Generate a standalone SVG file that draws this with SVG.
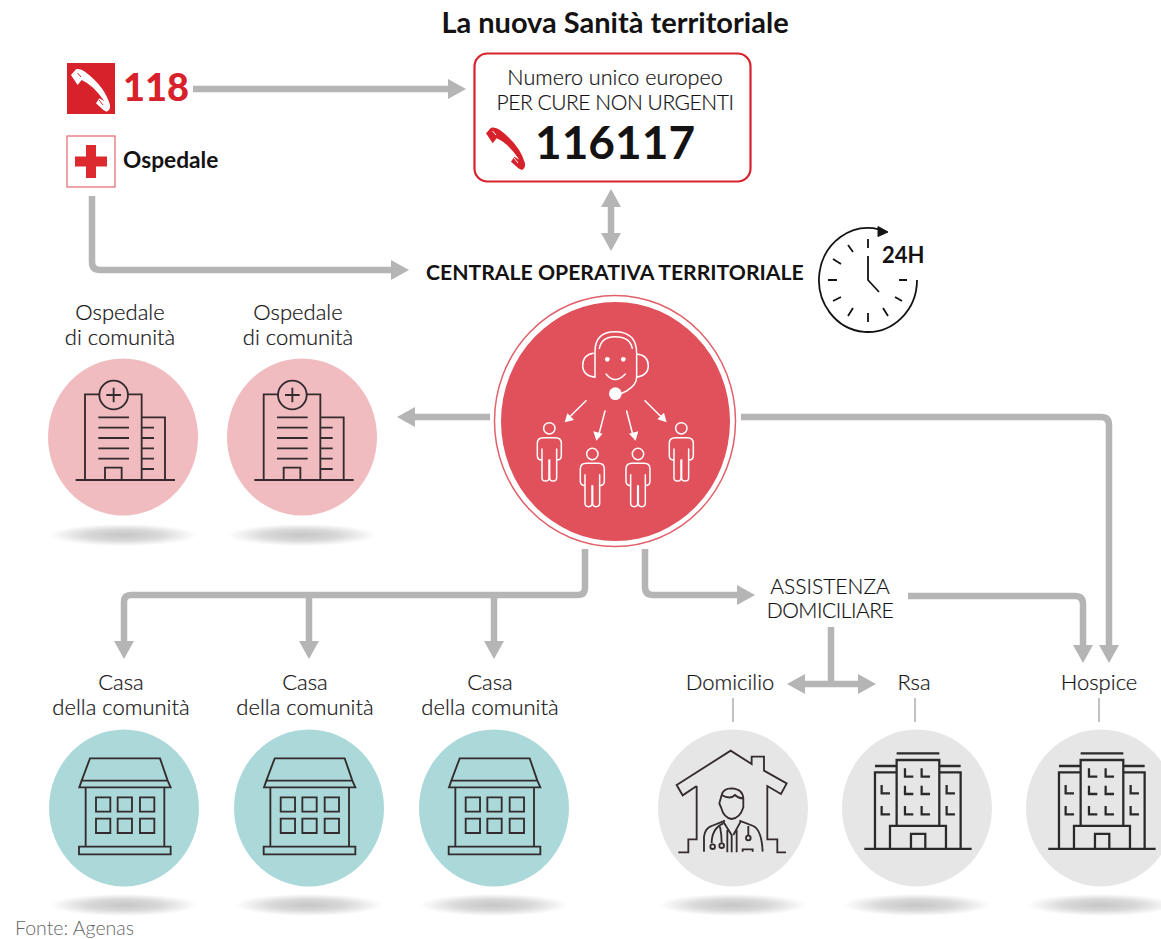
<svg xmlns="http://www.w3.org/2000/svg" width="1161" height="939" viewBox="0 0 1161 939">
<style>
text{font-family:"Lato","Noto Sans",sans-serif;fill:#141213}
.l{font-size:22px;font-weight:300;text-anchor:middle;stroke:#141213;stroke-width:.2}
.u{font-size:21px;letter-spacing:-.45px}
.b{font-weight:700}
.c{fill:none;stroke:#b5b5b5;stroke-width:6.5;stroke-linejoin:round}
.t{stroke:#9a9a9a;stroke-width:1.2;fill:none}
.i{fill:none;stroke:#332b2d;stroke-width:5.500;stroke-linejoin:miter}
.k{stroke-width:6.800;stroke:#2a2a2a}
.w{fill:none;stroke:#fff;stroke-width:4.500;stroke-linecap:round;stroke-linejoin:round}
</style>
<defs>
<marker id="h" markerUnits="userSpaceOnUse" markerWidth="20" markerHeight="22" refX="1" refY="11" orient="auto-start-reverse"><path d="M0,1L18,11L0,21Z" fill="#b5b5b5"/></marker>
<radialGradient id="s"><stop offset="0" stop-color="#c6c6c6"/><stop offset=".5" stop-color="#d8d8d8"/><stop offset="1" stop-color="#fff"/></radialGradient>
<g id="phone">
<path d="M93,225L108,208Q122,205 135,215Q195,260 210,315Q212,330 200,335L190,330L168,310L178,295L193,304Q160,255 125,240L113,255Z" fill="currentColor"/>
</g>
<g id="person" class="w">
<circle cx="0" cy="0" r="17"/>
<path d="M-22,95Q-36,95 -36,82V45Q-36,28 -18,28H18Q36,28 36,45V82Q36,95 22,95M-22,62V148Q-22,158 -11,158Q-1,158 -1,148V95M1,95V148Q1,158 11,158Q22,158 22,148V62"/>
</g>
<g id="hospital">
<circle class="i" cx="251" cy="165" r="43"/>
<path class="i" d="M208,163H165V420M294,163H335V420M251,143V187M229,165H273M205,232H297M205,263H297M205,294H297M205,325H297M205,356H297M335,232H405V420M335,263H372M335,294H372M335,325H372M335,356H372M335,387H372M225,420V383H275V420M137,420H435"/>
</g>
<g id="house">
<path class="i" d="M270,85H480L503,152H245ZM245,152L238,172H512L503,152M257,172V350M493,172V350M237,350H512V373H237Z"/>
<path class="i" d="M288,202h43v43h-43zM353,202h43v43h-43zM420,202h43v43h-43zM288,266h43v43h-43zM353,266h43v43h-43zM420,266h43v43h-43z"/>
</g>
<g id="tower">
<path class="i k" d="M673,387H995M770,100H898M705,138H770M898,138H962M770,318V120H898V318M770,157H705V387M898,157H962V387M750,387V318H918V387M813,387V342H856V387"/>
<path class="i k" d="M795,145v25h25M845,145v25h25M795,197v25h25M845,197v25h25M795,258v25h25M845,258v25h25M725,195v25h25M920,195v25h25M725,258v25h25M920,258v25h25"/>
</g>
</defs>

<text id="titolo" x="615" y="33" text-anchor="middle" class="b" font-size="29">La nuova Sanità territoriale</text>

<g id="connectors">
<path class="c" d="M193,89H449" marker-end="url(#h)"/>
<path class="c" d="M92,196V262Q92,270 100,270H392" marker-end="url(#h)"/>
<path class="c" d="M611,206V234" marker-start="url(#h)" marker-end="url(#h)"/>
<path class="c" d="M490,417H414" marker-end="url(#h)"/>
<path class="c" d="M741,417H1101Q1109,417 1109,425V646" marker-end="url(#h)"/>
<path class="c" d="M585,549V588Q585,595 578,595H131Q124,595 124,602V642" marker-end="url(#h)"/>
<path class="c" d="M309,595V642" marker-end="url(#h)"/>
<path class="c" d="M494,595V642" marker-end="url(#h)"/>
<path class="c" d="M645,549V587Q645,595 653,595H738" marker-end="url(#h)"/>
<path class="c" d="M908,596H1075Q1083,596 1083,604V646" marker-end="url(#h)"/>
<path class="c" d="M831,627V684"/>
<path class="c" d="M804,684H859" marker-start="url(#h)" marker-end="url(#h)"/>
<path class="t" d="M733,698V722M915,698V722M1099,698V722"/>
</g>

<g id="n118">
<rect x="67" y="63" width="48" height="51" fill="#d7222b"/>
<use href="#phone" transform="translate(40,0) scale(.3333)" color="#fff"/>
<path d="M77.500,73L81,77M99,100L103,105" stroke="#d7222b" stroke-width="1" fill="none"/>
<text x="123" y="101" font-size="38" font-weight="900" style="fill:#d7222b">118</text>
</g>
<g id="ospedale">
<rect x="67" y="136" width="48" height="51" fill="#fff" stroke="#e5666e" stroke-width="1.2"/>
<path d="M86,145h10v11.500h11v10h-11v11.500h-10v-11.500h-11v-10h11z" fill="#dd2a2f"/>
<text x="123" y="168" font-size="22.700" class="b">Ospedale</text>
</g>
<g id="numero">
<rect x="474.500" y="53.500" width="276" height="128" rx="13" fill="#fff" stroke="#d7222b" stroke-width="2.200"/>
<text x="615" y="85" class="l" style="font-size:21.600px">Numero unico europeo</text>
<text x="615" y="110" class="l u">PER CURE NON URGENTI</text>
<use href="#phone" transform="translate(460,40) scale(.3333) translate(-15,55)" color="#d7222b"/>
<path d="M492.500,131L496,135M514,158L518,163" stroke="#fff" stroke-width="1" fill="none"/>
<text x="535" y="159" font-size="46" class="b">116117</text>
</g>
<g id="centrale">
<text x="426" y="280" font-size="21.200" class="b">CENTRALE OPERATIVA TERRITORIALE</text>
</g>
<g id="clock" fill="none" stroke="#141213">
<path d="M917,280A49,52 0 1 1 879,229.300" stroke-width="1.800"/>
<path d="M878,226.500L888,232L878,236.500Z" fill="#141213"/>
<path d="M868,239V248M868,313V322M828,280H837M899,280H907M848,245L853,252M833,259L841,264M833,301L841,297M848,316L853,308M888,316L883,308M902,301L895,297" stroke-width="1.800"/>
<path d="M868,256V280L879,292" stroke-width="1.800"/>
<text x="882" y="263" font-size="22" class="b" stroke="none">24H</text>
</g>
<g id="centro">
<ellipse cx="615" cy="421" rx="120.500" ry="125.500" fill="#fff" stroke="#e1616b" stroke-width="1.500"/>
<ellipse cx="615.500" cy="421.500" rx="114.500" ry="119.500" fill="#e0515c"/>
<g transform="translate(480,290) scale(.3333)">
<path class="w" d="M340,190Q308,195 308,228Q310,258 345,262V185Q345,125 405,125Q470,125 470,190V262Q505,255 505,228Q505,195 470,192M358,175Q365,140 405,140Q450,140 457,175M470,262Q470,285 440,303L420,312M378,252Q405,285 436,252"/>
<circle cx="382" cy="208" r="7" fill="#fff"/><circle cx="430" cy="208" r="7" fill="#fff"/><circle cx="406" cy="311" r="19" fill="#fff"/>
<path class="w" d="M318,332L268,382M375,363L357,432M440,363L458,432M495,332L545,382"/>
<path d="M254,397L262,370L282,390ZM349,452L340,424L368,431ZM467,452L447,431L475,424ZM560,397L532,388L552,368Z" fill="#fff"/>
<use href="#person" x="208" y="415"/><use href="#person" x="337" y="492"/><use href="#person" x="474" y="492"/><use href="#person" x="604" y="415"/>
</g>
</g>

<g id="ospedale1">
<text x="120" y="320" class="l">Ospedale</text><text x="120" y="345" class="l">di comunità</text>
<ellipse cx="123" cy="437" rx="75" ry="78.500" fill="#f0bcc0"/>
<ellipse cx="123" cy="535" rx="74" ry="11" fill="url(#s)"/>
<use href="#hospital" transform="translate(30,340) scale(.3333)"/>
</g>
<g id="ospedale2">
<text x="298" y="320" class="l">Ospedale</text><text x="298" y="345" class="l">di comunità</text>
<ellipse cx="302" cy="437" rx="75" ry="78.500" fill="#f0bcc0"/>
<ellipse cx="302" cy="535" rx="74" ry="11" fill="url(#s)"/>
<use href="#hospital" transform="translate(208.700,340) scale(.3333)"/>
</g>

<g id="casa1">
<text x="121" y="690" class="l">Casa</text><text x="121" y="715" class="l">della comunità</text>
<ellipse cx="124" cy="808" rx="75" ry="78.500" fill="#abd8d9"/>
<ellipse cx="124" cy="905" rx="74" ry="11" fill="url(#s)"/>
<use href="#house" transform="translate(0,730) scale(.3333)"/>
</g>
<g id="casa2">
<text x="305" y="690" class="l">Casa</text><text x="305" y="715" class="l">della comunità</text>
<ellipse cx="309" cy="808" rx="75" ry="78.500" fill="#abd8d9"/>
<ellipse cx="309" cy="905" rx="74" ry="11" fill="url(#s)"/>
<use href="#house" transform="translate(184.700,730) scale(.3333)"/>
</g>
<g id="casa3">
<text x="490" y="690" class="l">Casa</text><text x="490" y="715" class="l">della comunità</text>
<ellipse cx="494" cy="808" rx="75" ry="78.500" fill="#abd8d9"/>
<ellipse cx="494" cy="905" rx="74" ry="11" fill="url(#s)"/>
<use href="#house" transform="translate(369.700,730) scale(.3333)"/>
</g>

<g id="assistenza"><text x="830" y="594" class="l u" style="letter-spacing:0">ASSISTENZA</text><text x="830" y="618" class="l u">DOMICILIARE</text></g>

<g id="domicilio">
<text x="730" y="690" class="l">Domicilio</text>
<ellipse cx="733" cy="808" rx="75" ry="78.500" fill="#e6e6e6"/>
<ellipse cx="733" cy="905" rx="74" ry="11" fill="url(#s)"/>
<g transform="translate(640,720) scale(.3333)">
<path class="i" d="M170,198L128,226L110,195L272,92L335,132V110H372V152L440,190L423,222L382,198V358H412V397H438M170,198V358H145V397H115"/>
<path class="i" d="M245,225Q250,205 275,205Q308,207 310,235V262Q300,295 275,297Q252,295 243,262L238,250ZM245,225Q270,240 285,225Q295,235 310,235"/>
<path class="i" d="M192,395V350Q195,325 215,318L255,302M298,302L340,318Q365,330 368,395M250,305L275,345V397M302,305L280,345M262,330V397M290,330V397M308,395V388H338V395"/>
<path class="i" d="M250,310Q215,325 215,370M240,320Q245,345 245,368M325,345V318"/>
<circle class="i" cx="218" cy="380" r="7"/><circle class="i" cx="245" cy="377" r="7"/><circle class="i" cx="325" cy="354" r="7"/>
</g>
</g>
<g id="rsa">
<text x="914" y="690" class="l">Rsa</text>
<ellipse cx="917" cy="808" rx="75" ry="78.500" fill="#e6e6e6"/>
<ellipse cx="917" cy="905" rx="74" ry="11" fill="url(#s)"/>
<use href="#tower" transform="translate(640,720) scale(.3333)"/>
</g>
<g id="hospice">
<text x="1099" y="690" class="l">Hospice</text>
<ellipse cx="1101" cy="808" rx="75" ry="78.500" fill="#e6e6e6"/>
<ellipse cx="1101" cy="905" rx="74" ry="11" fill="url(#s)"/>
<use href="#tower" transform="translate(824,720) scale(.3333)"/>
</g>
<text id="fonte" x="15" y="935" font-size="19.500" font-weight="300" style="fill:#666">Fonte: Agenas</text>
</svg>
